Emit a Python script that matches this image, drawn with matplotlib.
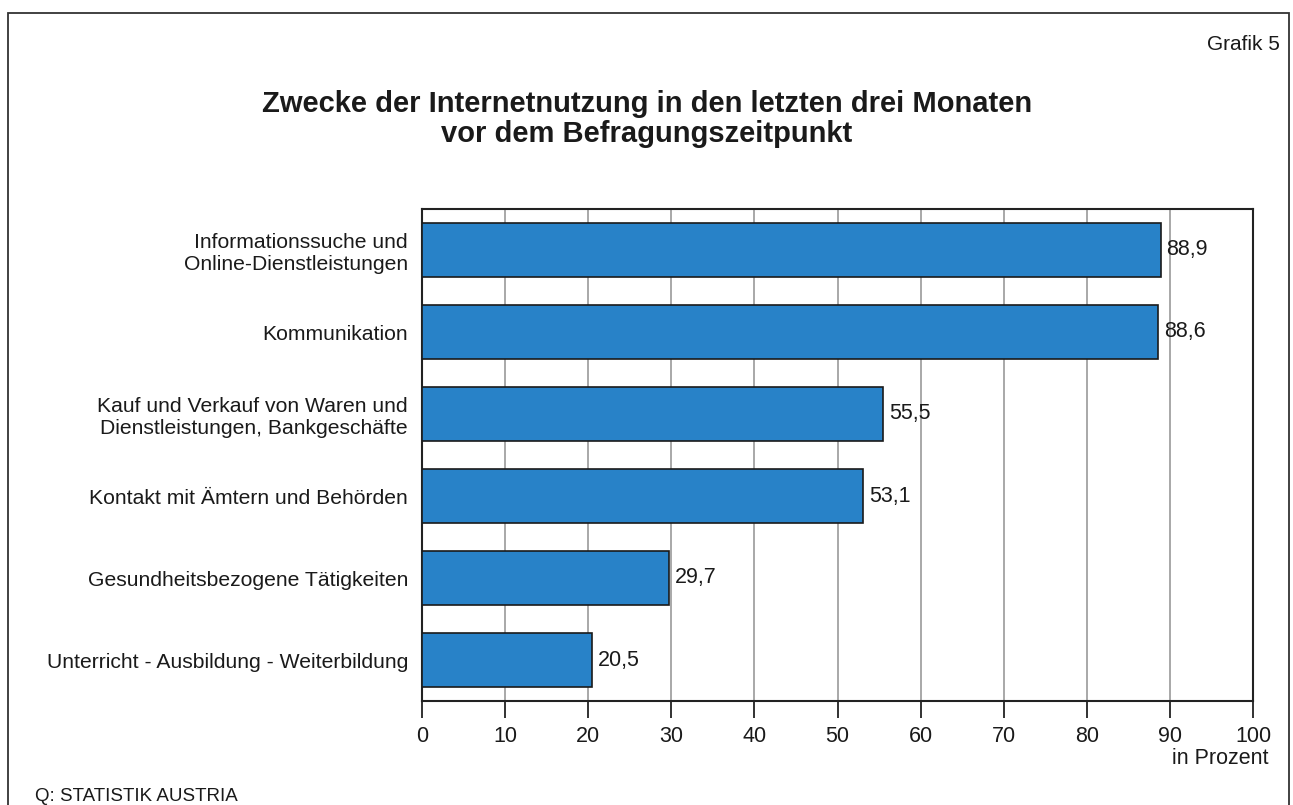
import matplotlib.pyplot as plt
from matplotlib.patches import Rectangle

plt.rcParams['font.family'] = ['Liberation Sans', 'DejaVu Sans']

# Daten
kategorien = [
    "Informationssuche und\nOnline-Dienstleistungen",
    "Kommunikation",
    "Kauf und Verkauf von Waren und\nDienstleistungen, Bankgeschäfte",
    "Kontakt mit Ämtern und Behörden",
    "Gesundheitsbezogene Tätigkeiten",
    "Unterricht - Ausbildung - Weiterbildung",
]
werte = [88.9, 88.6, 55.5, 53.1, 29.7, 20.5]
x_ticks = [0, 10, 20, 30, 40, 50, 60, 70, 80, 90, 100]

W, H = 1293, 805
fig = plt.figure(figsize=(W / 100, H / 100), dpi=100)

# Rahmen
fig.add_artist(Rectangle((8 / W, -0.01), (1281 / W), (1 - 13 / H) + 0.01,
                         transform=fig.transFigure, fill=False,
                         edgecolor="#333333", linewidth=1.3))

ax = fig.add_axes([422 / W, 1 - 701 / H, (1253 - 422) / W, (701 - 209) / H])

pos = list(range(len(werte)))[::-1]
ax.barh(pos, werte, height=0.65, color="#2882C8", edgecolor="#1a1a1a",
        linewidth=1.2, zorder=3)

for p, v in zip(pos, werte):
    ax.text(v + 0.7, p, f"{v:.1f}".replace(".", ","), va="center", ha="left",
            fontsize=15.5, color="#1a1a1a")

ax.set_xlim(0, 100)
ax.set_ylim(-0.5, 5.5)
ax.set_xticks(x_ticks)
ax.set_xticklabels([str(t) for t in x_ticks], fontsize=15.5, color="#1a1a1a")
ax.set_yticks(pos)
ax.set_yticklabels(kategorien, fontsize=15.2, color="#1a1a1a", linespacing=1.22)
ax.tick_params(axis="y", length=0, pad=10)
ax.tick_params(axis="x", length=12, width=1.3, color="#222222", pad=6)
ax.grid(axis="x", color="#999999", linewidth=1.2, zorder=0)
for s in ax.spines.values():
    s.set_linewidth(1.5)
    s.set_color("#222222")

fig.text(1269 / W, 1 - 758 / H, "in Prozent", ha="right", va="center",
         fontsize=15.5, color="#1a1a1a")
fig.text(1280 / W, 1 - 44 / H, "Grafik 5", ha="right", va="center",
         fontsize=15, color="#1a1a1a")
fig.text(647 / W, 1 - 119 / H,
         "Zwecke der Internetnutzung in den letzten drei Monaten\nvor dem Befragungszeitpunkt",
         ha="center", va="center", fontsize=21, fontweight="bold",
         color="#1a1a1a", linespacing=1.12)
fig.text(35 / W, 1 - 796 / H, "Q: STATISTIK AUSTRIA", ha="left", va="center",
         fontsize=13.5, color="#1a1a1a")

fig.savefig("out.png", dpi=100)
